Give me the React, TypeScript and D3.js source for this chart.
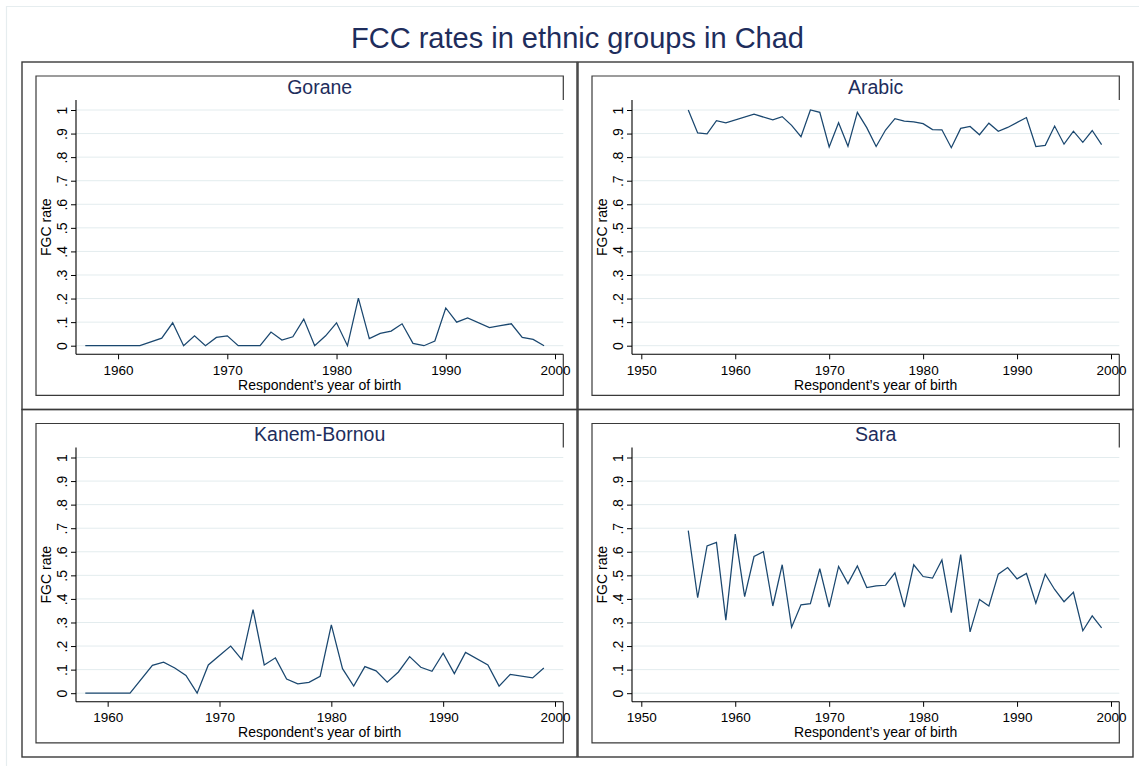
import React, { useEffect, useRef } from 'react';
import * as d3 from 'd3';

const chartTitle = 'FCC rates in ethnic groups in Chad';
const yAxisTitle = 'FGC rate';
const xAxisTitle = 'Respondent\u2019s year of birth';

const goraneYears = [1957, 1958, 1959, 1960, 1961, 1962, 1964, 1965, 1966, 1967, 1968, 1969, 1970, 1971, 1972, 1973, 1974, 1975, 1976, 1977, 1978, 1979, 1980, 1981, 1982, 1983, 1984, 1985, 1986, 1987, 1988, 1989, 1990, 1991, 1992, 1994, 1995, 1996, 1997, 1998, 1999];
const goraneRates = [0, 0, 0, 0, 0, 0, 0.032, 0.097, 0, 0.042, 0, 0.035, 0.042, 0, 0, 0, 0.058, 0.024, 0.038, 0.113, 0, 0.042, 0.097, 0, 0.202, 0.03, 0.052, 0.062, 0.093, 0.01, 0, 0.02, 0.16, 0.1, 0.118, 0.077, 0.085, 0.093, 0.035, 0.027, 0];

const arabicYears = [1955, 1956, 1957, 1958, 1959, 1962, 1964, 1965, 1966, 1967, 1968, 1969, 1970, 1971, 1972, 1973, 1974, 1975, 1976, 1977, 1978, 1979, 1980, 1981, 1982, 1983, 1984, 1985, 1986, 1987, 1988, 1989, 1991, 1992, 1993, 1994, 1995, 1996, 1997, 1998, 1999];
const arabicRates = [1.0, 0.903, 0.899, 0.955, 0.945, 0.982, 0.958, 0.972, 0.935, 0.887, 1.0, 0.99, 0.843, 0.946, 0.846, 0.99, 0.925, 0.845, 0.915, 0.963, 0.953, 0.95, 0.942, 0.917, 0.916, 0.84, 0.922, 0.93, 0.895, 0.944, 0.91, 0.926, 0.968, 0.845, 0.85, 0.932, 0.855, 0.91, 0.863, 0.913, 0.853];

const kanemYears = [1958, 1959, 1960, 1961, 1962, 1964, 1965, 1966, 1967, 1968, 1969, 1970, 1971, 1972, 1973, 1974, 1975, 1976, 1977, 1978, 1979, 1980, 1981, 1982, 1983, 1984, 1985, 1986, 1987, 1988, 1989, 1990, 1991, 1992, 1994, 1995, 1996, 1998, 1999];
const kanemRates = [0, 0, 0, 0, 0, 0.118, 0.132, 0.107, 0.075, 0, 0.12, 0.16, 0.2, 0.142, 0.355, 0.12, 0.15, 0.06, 0.04, 0.046, 0.072, 0.29, 0.104, 0.03, 0.113, 0.095, 0.047, 0.09, 0.155, 0.11, 0.093, 0.17, 0.083, 0.173, 0.12, 0.03, 0.08, 0.065, 0.107];

const saraYears = [1955, 1956, 1957, 1958, 1959, 1960, 1961, 1962, 1963, 1964, 1965, 1966, 1967, 1968, 1969, 1970, 1971, 1972, 1973, 1974, 1975, 1976, 1977, 1978, 1979, 1980, 1981, 1982, 1983, 1984, 1985, 1986, 1987, 1988, 1989, 1990, 1991, 1992, 1993, 1994, 1995, 1996, 1997, 1998, 1999];
const saraRates = [0.69, 0.405, 0.625, 0.64, 0.31, 0.675, 0.41, 0.58, 0.6, 0.37, 0.545, 0.28, 0.375, 0.38, 0.528, 0.365, 0.538, 0.465, 0.54, 0.448, 0.455, 0.458, 0.51, 0.365, 0.545, 0.495, 0.488, 0.565, 0.342, 0.588, 0.26, 0.398, 0.37, 0.505, 0.533, 0.485, 0.508, 0.382, 0.505, 0.44, 0.388, 0.428, 0.265, 0.328, 0.277];

const ticksFrom1960 = [1960, 1970, 1980, 1990, 2000];
const ticksFrom1950 = [1950, 1960, 1970, 1980, 1990, 2000];
const yTicks = [0, 0.1, 0.2, 0.3, 0.4, 0.5, 0.6, 0.7, 0.8, 0.9, 1];
const yTickLabels = ['0', '.1', '.2', '.3', '.4', '.5', '.6', '.7', '.8', '.9', '1'];

const panels = [
  { name: 'Gorane', years: goraneYears, rates: goraneRates, ticks: ticksFrom1960 },
  { name: 'Arabic', years: arabicYears, rates: arabicRates, ticks: ticksFrom1950 },
  { name: 'Kanem-Bornou', years: kanemYears, rates: kanemRates, ticks: ticksFrom1960 },
  { name: 'Sara', years: saraYears, rates: saraRates, ticks: ticksFrom1950 },
];

const FONT = '"Liberation Sans", Arial, Helvetica, sans-serif';
const NAVY = '#1e2d5c';
const LINE = '#1a476f';
const FRAME = '#3a3a3a';
const GRID = '#e3ecee';

const App = () => {
  const svgRef = useRef(null);

  useEffect(() => {
    const width = 1139;
    const height = 767;
    const panelW = 555;
    const panelH = 347.5;
    const originsX = [22, 578];
    const originsY = [62, 409.5];

    // inside a panel
    const boxLeft = 14, boxTop = 14, boxRight = 541.3, boxBottom = 333.3;
    const plotLeft = 54, plotTop = 38, plotRight = 541.3, plotBottom = 292.3;

    const svg = d3.select(svgRef.current)
      .attr('width', width)
      .attr('height', height)
      .attr('viewBox', [0, 0, width, height]);
    svg.selectAll('*').remove();

    svg.append('rect').attr('width', width).attr('height', height).attr('fill', '#fff');

    // faint outer border
    svg.append('path')
      .attr('d', 'M6.5,766 V6.5 H1139')
      .attr('fill', 'none')
      .attr('stroke', '#e6edef')
      .attr('stroke-width', 1.2);

    svg.append('text')
      .attr('x', 577.5)
      .attr('y', 47.5)
      .attr('text-anchor', 'middle')
      .attr('font-family', FONT)
      .attr('font-size', 29)
      .attr('fill', NAVY)
      .text(chartTitle);

    panels.forEach((p, i) => {
      const col = i % 2;
      const row = Math.floor(i / 2);
      const g = svg.append('g')
        .attr('transform', `translate(${originsX[col]},${originsY[row]})`);

      g.append('rect')
        .attr('x', 0).attr('y', 0)
        .attr('width', panelW).attr('height', panelH)
        .attr('fill', 'none')
        .attr('stroke', FRAME)
        .attr('stroke-width', 1.4);

      // inner box; the plot region hides its right edge
      g.append('path')
        .attr('d', `M${boxRight},${plotTop} V${boxTop} H${boxLeft} V${boxBottom} H${boxRight} V${plotBottom}`)
        .attr('fill', 'none')
        .attr('stroke', FRAME)
        .attr('stroke-width', 1.2);

      const x = d3.scaleLinear()
        .domain([Math.min(p.ticks[0], d3.min(p.years)), 2000])
        .range([63.3, 533]);

      const y = d3.scaleLinear()
        .domain([0, 1])
        .range([283.7, 48]);

      g.append('g')
        .selectAll('line')
        .data(yTicks)
        .join('line')
        .attr('x1', plotLeft)
        .attr('x2', plotRight)
        .attr('y1', d => y(d))
        .attr('y2', d => y(d))
        .attr('stroke', GRID)
        .attr('stroke-width', 1);

      const line = d3.line()
        .x((d, k) => x(p.years[k]))
        .y(d => y(d));

      g.append('path')
        .datum(p.rates)
        .attr('fill', 'none')
        .attr('stroke', LINE)
        .attr('stroke-width', 1.25)
        .attr('stroke-linejoin', 'miter')
        .attr('d', line);

      // y axis
      g.append('g')
        .attr('transform', `translate(${plotLeft},0)`)
        .call(d3.axisLeft(y).tickValues(yTicks).tickSize(5).tickSizeOuter(0)
          .tickFormat((d, k) => yTickLabels[k]))
        .call(a => a.select('.domain').remove())
        .call(a => a.attr('font-family', FONT).attr('font-size', 14))
        .call(a => a.selectAll('.tick line').attr('stroke', '#000'))
        .call(a => a.selectAll('.tick text')
          .attr('x', 0)
          .attr('y', -9.3)
          .attr('dy', 0)
          .attr('transform', 'rotate(-90)')
          .attr('text-anchor', 'middle')
          .attr('fill', '#000'));

      g.append('line')
        .attr('x1', plotLeft).attr('x2', plotLeft)
        .attr('y1', plotTop).attr('y2', plotBottom)
        .attr('stroke', '#000')
        .attr('stroke-width', 1.1);

      // x axis
      g.append('g')
        .attr('transform', `translate(0,${plotBottom})`)
        .call(d3.axisBottom(x).tickValues(p.ticks).tickSize(5).tickSizeOuter(0)
          .tickFormat(d3.format('d')))
        .call(a => a.select('.domain').remove())
        .call(a => a.attr('font-family', FONT).attr('font-size', 13.5))
        .call(a => a.selectAll('.tick line').attr('stroke', '#000'))
        .call(a => a.selectAll('.tick text')
          .attr('y', 20.5)
          .attr('dy', 0)
          .attr('fill', '#000'));

      g.append('line')
        .attr('x1', plotLeft).attr('x2', plotRight)
        .attr('y1', plotBottom).attr('y2', plotBottom)
        .attr('stroke', '#000')
        .attr('stroke-width', 1.1);

      const midX = (plotLeft + plotRight) / 2;
      const midY = (plotTop + plotBottom) / 2;

      g.append('text')
        .attr('x', midX)
        .attr('y', 31.5)
        .attr('text-anchor', 'middle')
        .attr('font-family', FONT)
        .attr('font-size', 19.5)
        .attr('fill', NAVY)
        .text(p.name);

      g.append('text')
        .attr('transform', `translate(28.5,${midY}) rotate(-90)`)
        .attr('text-anchor', 'middle')
        .attr('font-family', FONT)
        .attr('font-size', 14)
        .attr('fill', '#000')
        .text(yAxisTitle);

      g.append('text')
        .attr('x', midX)
        .attr('y', 327.5)
        .attr('text-anchor', 'middle')
        .attr('font-family', FONT)
        .attr('font-size', 14)
        .attr('fill', '#000')
        .text(xAxisTitle);
    });
  }, []);

  return (
    <div style={{ position: 'absolute', left: 0, top: 0, width: 1139, height: 767, background: '#fff' }}>
      <svg ref={svgRef} style={{ display: 'block' }}></svg>
    </div>
  );
};

export default App;
